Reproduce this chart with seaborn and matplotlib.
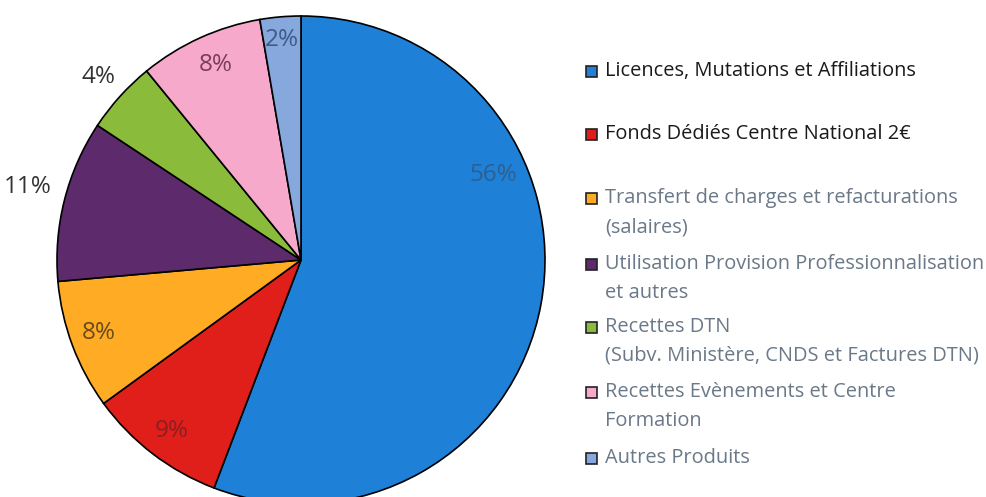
import matplotlib
matplotlib.use("Agg")
import matplotlib.pyplot as plt
import seaborn as sns
import numpy as np
from matplotlib.patches import Rectangle

# produits - repartition
categories = [
    "Licences, Mutations et Affiliations",
    "Fonds Dédiés Centre National 2€",
    "Transfert de charges et refacturations\n(salaires)",
    "Utilisation Provision Professionnalisation\net autres",
    "Recettes DTN\n(Subv. Ministère, CNDS et Factures DTN)",
    "Recettes Evènements et Centre\nFormation",
    "Autres Produits",
]
shares = [55.8, 9.2, 8.6, 10.7, 4.8, 8.2, 2.7]
pct_labels = ["56%", "9%", "8%", "11%", "4%", "8%", "2%"]

colors = ["#1f80d8", "#e01e1a", "#ffab24", "#5d2a6c", "#8bbb3a", "#f7a9cb", "#86a8dc"]
label_colors = ["#2e5f8f", "#8a2020", "#6a4a1c", "#333333", "#333333", "#7a3d5c", "#3d5a88"]
# label spots in pie units (x right, y up)
label_pos = [(0.79, 0.35), (-0.53, -0.70), (-0.83, -0.30), (-1.12, 0.30),
             (-0.83, 0.75), (-0.35, 0.80), (-0.08, 0.90)]
legend_colors = ["#1a1a1a", "#1a1a1a", "#6a7888", "#6a7888", "#6a7888", "#6a7888", "#6a7888"]
legend_y = [71, 134, 198, 264, 327, 392, 458]

sns.set_theme(style="white")
plt.rcParams["font.family"] = ["Open Sans", "DejaVu Sans"]

W, H = 987, 497
fig = plt.figure(figsize=(W / 100, H / 100), dpi=100)
cx, cy, R = 301, 260, 244
ax = fig.add_axes([(cx - R) / W, (H - cy - R) / H, 2 * R / W, 2 * R / H])

ax.pie(shares, colors=colors, startangle=90, counterclock=False,
       wedgeprops=dict(edgecolor="black", linewidth=1.2))
ax.set_xlim(-1, 1)
ax.set_ylim(-1, 1)
ax.set_aspect("equal")

for (x, y), txt, c in zip(label_pos, pct_labels, label_colors):
    ax.text(x, y, txt, ha="center", va="center", fontsize=17.5, color=c,
            clip_on=False)

# legend drawn by hand to keep the uneven spacing
for name, col, tc, y in zip(categories, colors, legend_colors, legend_y):
    fig.patches.append(Rectangle((586 / W, 1 - (y + 6) / H), 11 / W, 11 / H,
                                 facecolor=col, edgecolor="#222222", linewidth=1.2,
                                 transform=fig.transFigure))
    for i, line in enumerate(name.split("\n")):
        fig.text(605 / W, 1 - (y + 29 * i) / H, line, fontsize=14.4, color=tc,
                 va="center", ha="left")

fig.savefig("out.png", dpi=100, facecolor="white")
